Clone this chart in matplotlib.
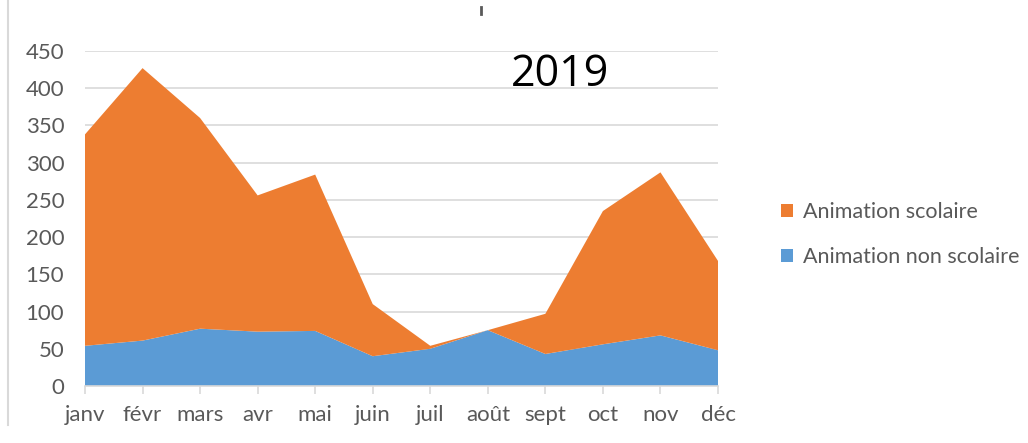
import matplotlib.pyplot as plt
from matplotlib.lines import Line2D

# data (2019)
mois = ['janv', 'févr', 'mars', 'avr', 'mai', 'juin', 'juil', 'août', 'sept', 'oct', 'nov', 'déc']
non_scolaire = [54, 61, 77, 73, 74, 40, 50, 75, 43, 56, 68, 48]
total = [338, 427, 360, 256, 284, 110, 54, 75, 97, 235, 287, 168]
scolaire = [t - n for t, n in zip(total, non_scolaire)]

plt.rcParams['font.family'] = ['Lato', 'DejaVu Sans']

fig = plt.figure(figsize=(10.28, 4.43), dpi=100)
ax = fig.add_axes([85 / 1028, 57 / 443, 633 / 1028, 335 / 443])

x = range(len(mois))
ax.stackplot(x, non_scolaire, scolaire, colors=['#5B9BD5', '#ED7D31'],
             labels=['Animation non scolaire', 'Animation scolaire'], zorder=2)

ax.set_xlim(0, len(mois) - 1)
ax.set_ylim(0, 450)
ax.set_yticks(range(0, 451, 50))
ax.set_xticks(list(x))
ax.set_xticklabels(mois)
ax.grid(axis='y', color='#D9D9D9', linewidth=1.2, zorder=0)
ax.set_axisbelow(True)

for s in ['top', 'right', 'left']:
    ax.spines[s].set_visible(False)
ax.spines['bottom'].set_color('#D9D9D9')
ax.spines['bottom'].set_linewidth(1.2)
ax.spines['bottom'].set_zorder(3)
ax.tick_params(axis='y', length=0, labelsize=16, labelcolor='#595959', pad=15)
ax.tick_params(axis='x', length=6, color='#D9D9D9', width=1.2, labelsize=16,
               labelcolor='#595959', pad=8)

# legend, order as in the picture (scolaire first)
h, l = ax.get_legend_handles_labels()
leg = fig.legend(h[::-1], l[::-1], loc='center left', bbox_to_anchor=(0.741, 0.47),
                 frameon=False, fontsize=15.5, handlelength=0.57, handleheight=0.57,
                 labelspacing=1.15, handletextpad=0.45)
for t in leg.get_texts():
    t.set_color('#595959')

fig.text(560 / 1028, 1 - 75 / 443, '2019', fontsize=31, color='black',
         ha='center', va='center', family=['Open Sans', 'DejaVu Sans'])

# small leftover tick at top and frame line on the left
fig.add_artist(Line2D([481 / 1028, 481 / 1028], [1 - 7 / 443, 1 - 14 / 443],
                      color='#595959', linewidth=2))
fig.add_artist(Line2D([8 / 1028, 8 / 1028], [1 - 425 / 443, 1.0],
                      color='#D9D9D9', linewidth=1.5))

fig.savefig('out.png', dpi=100)
